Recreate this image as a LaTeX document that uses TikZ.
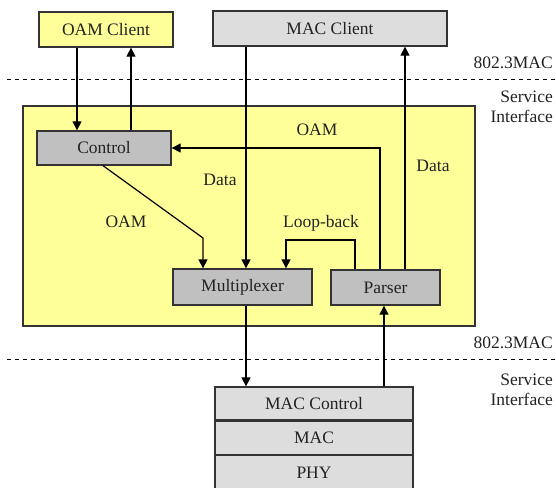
\documentclass[tikz,border=0pt]{standalone}
\usepackage{fontspec}
\setmainfont{Liberation Serif}
\usetikzlibrary{arrows.meta,positioning}
\definecolor{oamyellow}{HTML}{FFFF99}
\definecolor{blockgray}{HTML}{C0C0C0}
\definecolor{macgray}{HTML}{DDDDDD}
\definecolor{edgegray}{HTML}{333333}
\definecolor{textgray}{HTML}{222222}
\begin{document}
\begin{tikzpicture}[x=1pt,y=-1pt,
  every node/.style={font=\fontsize{17.5}{20}\selectfont, text=textgray, inner sep=0pt},
  box/.style={draw=edgegray, line width=1.3pt, minimum height=35pt},
  arr/.style={-{Triangle[length=9pt,width=9pt]}, line width=1.2pt},
  sep/.style={dash pattern=on 4pt off 4pt, line width=1pt}]
	\useasboundingbox (0,0) rectangle (556,487);
	\node [box, fill=oamyellow, minimum width=452pt, minimum height=220pt] (oam) at (249,216) {};
	\node [box, fill=oamyellow, minimum width=134pt] (oamc) at (106,29.5) {OAM Client};
	\node [box, fill=macgray, minimum width=234pt] (macc) at (330,28.5) {MAC Client};
	\node [box, fill=blockgray, minimum width=134pt, minimum height=34pt] (ctrl) at (104,148) {Control};
	\node [box, fill=blockgray, minimum width=139pt, minimum height=36pt] (mux) at (242.5,287) {Multiplexer};
	\node [box, fill=blockgray, minimum width=109pt] (pars) at (385.5,287.5) {Parser};
	\node [box, fill=macgray, minimum width=198pt, minimum height=33pt] (macctl) at (314,403.5) {MAC Control};
	\node [box, fill=macgray, minimum width=198pt, minimum height=33pt, below=0pt of macctl] (mac) {MAC};
	\node [box, fill=macgray, minimum width=198pt, minimum height=34pt, below=0pt of mac] (phy) {PHY};
	\draw [sep] (7,79) -- (556,79);
	\draw [sep] (7,359) -- (556,359);
	\node [anchor=east] (sapup) at (553,63) {802.3MAC};
	\node [anchor=east, align=right] (siup) at (553,107) {Service\\Interface};
	\node [anchor=east] (sapdn) at (553,343) {802.3MAC};
	\node [anchor=east, align=right] (sidn) at (553,390) {Service\\Interface};
	\node (oamup) at (317,130) {OAM};
	\node (dataup) at (433,166) {Data};
	\node (datadn) at (220,180) {Data};
	\node (oamdn) at (126,222) {OAM};
	\node (loop) at (321,223) {Loop-back};
	\draw [arr] (oamc.south -| 77,0) -- (ctrl.north -| 77,0);
	\draw [arr] (ctrl.north -| 131,0) -- (oamc.south -| 131,0);
	\draw [arr] (macc.south -| 246,0) -- (mux.north -| 246,0);
	\draw [arr] (pars.north -| 405,0) -- (macc.south -| 405,0);
	\draw [arr] (pars.north -| 380,0) |- (ctrl.east);
	\draw [arr] (ctrl.south -| 103,0) -- (203,238) -- (mux.north -| 203,0);
	\draw [arr] (pars.north -| 355,0) -- (355,240) -| (mux.north -| 286,0);
	\draw [arr] (mux.south -| 246,0) -- (macctl.north -| 246,0);
	\draw [arr] (macctl.north -| 384,0) -- (pars.south -| 384,0);
\end{tikzpicture}
\end{document}
